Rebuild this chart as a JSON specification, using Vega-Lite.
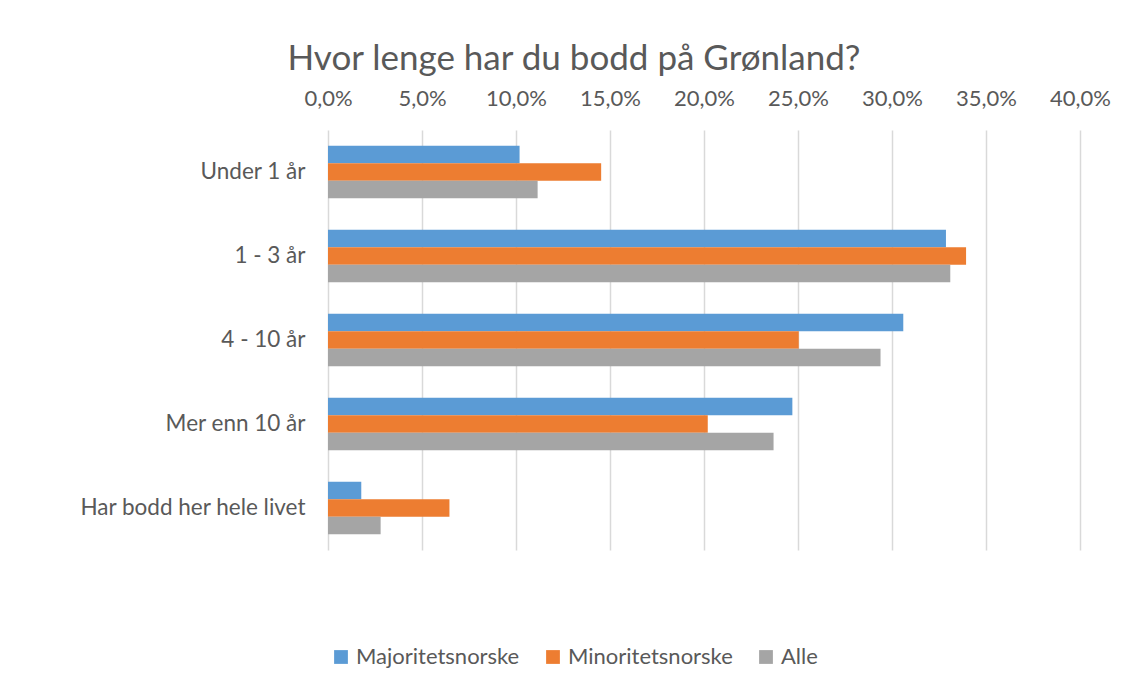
{
  "$schema": "https://vega.github.io/schema/vega-lite/v6.json",
  "width": 752,
  "height": 420,
  "autosize": {"type": "none"},
  "padding": {"left": 328, "top": 130, "right": 48, "bottom": 139},
  "background": "white",
  "title": {
    "text": "Hvor lenge har du bodd på Grønland?",
    "anchor": "middle",
    "dx": -130,
    "fontSize": 35,
    "font": "Lato",
    "fontWeight": "normal",
    "color": "#595959",
    "offset": 10
  },
  "data": {
    "values": [
      {"kategori": "Under 1 år", "gruppe": "Majoritetsnorske", "andel": 0.1019},
      {"kategori": "Under 1 år", "gruppe": "Minoritetsnorske", "andel": 0.1453},
      {"kategori": "Under 1 år", "gruppe": "Alle", "andel": 0.1115},
      {"kategori": "1 - 3 år", "gruppe": "Majoritetsnorske", "andel": 0.3287},
      {"kategori": "1 - 3 år", "gruppe": "Minoritetsnorske", "andel": 0.3394},
      {"kategori": "1 - 3 år", "gruppe": "Alle", "andel": 0.3310},
      {"kategori": "4 - 10 år", "gruppe": "Majoritetsnorske", "andel": 0.3060},
      {"kategori": "4 - 10 år", "gruppe": "Minoritetsnorske", "andel": 0.2504},
      {"kategori": "4 - 10 år", "gruppe": "Alle", "andel": 0.2939},
      {"kategori": "Mer enn 10 år", "gruppe": "Majoritetsnorske", "andel": 0.2470},
      {"kategori": "Mer enn 10 år", "gruppe": "Minoritetsnorske", "andel": 0.2020},
      {"kategori": "Mer enn 10 år", "gruppe": "Alle", "andel": 0.2370},
      {"kategori": "Har bodd her hele livet", "gruppe": "Majoritetsnorske", "andel": 0.0177},
      {"kategori": "Har bodd her hele livet", "gruppe": "Minoritetsnorske", "andel": 0.0646},
      {"kategori": "Har bodd her hele livet", "gruppe": "Alle", "andel": 0.0280}
    ]
  },
  "mark": {"type": "bar"},
  "encoding": {
    "y": {
      "field": "kategori",
      "type": "nominal",
      "sort": ["Under 1 år", "1 - 3 år", "4 - 10 år", "Mer enn 10 år", "Har bodd her hele livet"],
      "scale": {"paddingInner": 0.375, "paddingOuter": 0.1875},
      "axis": {
        "title": null,
        "ticks": false,
        "domain": false,
        "labelFontSize": 22.5,
        "labelFont": "Lato",
        "labelColor": "#595959",
        "labelPadding": 23,
        "labelLimit": 0
      }
    },
    "yOffset": {
      "field": "gruppe",
      "type": "nominal",
      "sort": ["Majoritetsnorske", "Minoritetsnorske", "Alle"],
      "scale": {"paddingInner": 0, "paddingOuter": 0}
    },
    "x": {
      "field": "andel",
      "type": "quantitative",
      "scale": {"domain": [0, 0.4], "nice": false},
      "axis": {
        "orient": "top",
        "title": null,
        "values": [0, 0.05, 0.1, 0.15, 0.2, 0.25, 0.3, 0.35, 0.4],
        "labelExpr": "replace(format(datum.value, '.1%'), '.', ',')",
        "ticks": false,
        "domain": false,
        "grid": true,
        "gridColor": "#d9d9d9",
        "gridWidth": 1.5,
        "labelFontSize": 22,
        "labelFont": "Lato",
        "labelColor": "#595959",
        "labelPadding": 20,
        "labelFlush": false
      }
    },
    "color": {
      "field": "gruppe",
      "type": "nominal",
      "sort": ["Majoritetsnorske", "Minoritetsnorske", "Alle"],
      "scale": {
        "domain": ["Majoritetsnorske", "Minoritetsnorske", "Alle"],
        "range": ["#5B9BD5", "#ED7D31", "#A5A5A5"]
      },
      "legend": {
        "title": null,
        "orient": "none",
        "direction": "horizontal",
        "legendX": 2,
        "legendY": 516,
        "symbolType": "square",
        "symbolSize": 190,
        "symbolStrokeWidth": 0,
        "labelFontSize": 22,
        "labelFont": "Lato",
        "labelColor": "#595959",
        "labelOffset": 4,
        "labelLimit": 0,
        "columnPadding": 22
      }
    }
  },
  "config": {"view": {"stroke": null}}
}
